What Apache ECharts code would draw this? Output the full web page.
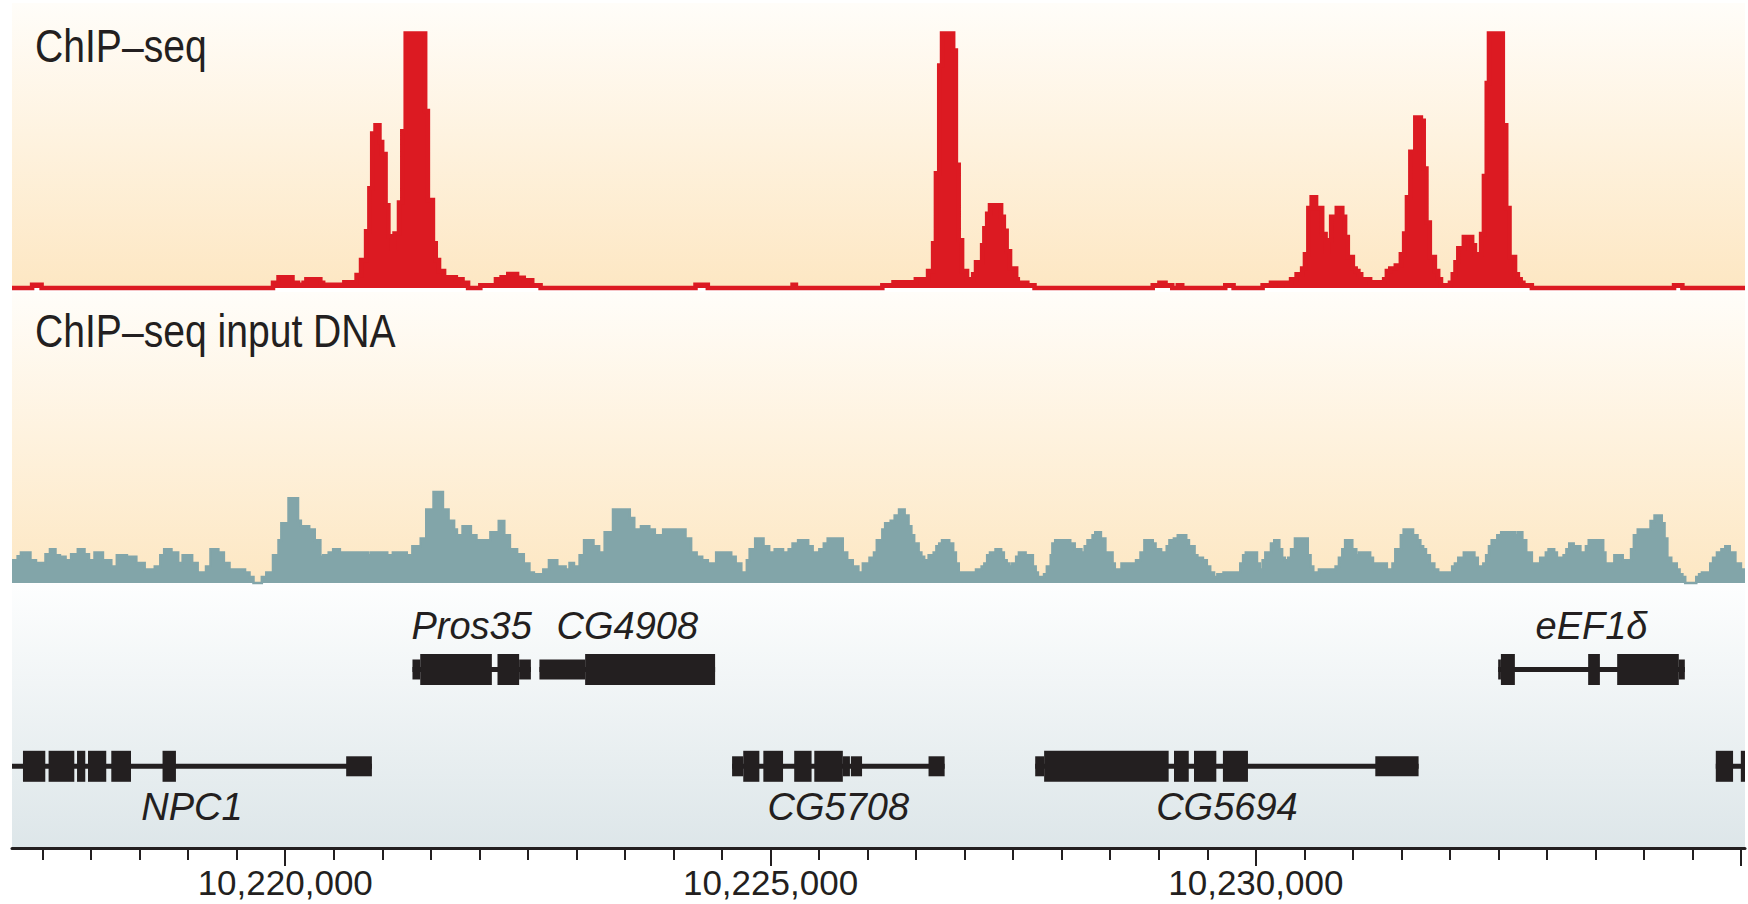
<!DOCTYPE html>
<html><head><meta charset="utf-8">
<script src="https://cdn.jsdelivr.net/npm/echarts@6/dist/echarts.min.js"></script>
<style>html,body{margin:0;padding:0;background:#fff}#c{width:1748px;height:904px}</style>
</head><body><div id="c"></div>
<script>
// ---- data (genomic coordinates in bp) ----
const xMin = 10217185, xMax = 10235040;

// ChIP-seq read density: [step start (bp), value]
const chipSeq = [
[10217185,0],[10217392,1.3],[10217490,0],[10219874,2.1],[10219931,4.2],[10220075,2.1],[10220132,1.3],[10220189,2.1],[10220218,3.4],[10220362,2.1],[10220391,1.3],[10220609,2.3],[10220735,5.1],[10220781,11],[10220833,22.3],[10220867,39.2],[10220896,60.7],[10220930,64],[10220971,57.4],[10220999,52.7],[10221034,32.5],[10221063,20.3],[10221097,15.6],[10221126,21.4],[10221172,33.6],[10221206,61.6],[10221241,100],[10221442,69.6],[10221470,34.6],[10221522,17.6],[10221551,11],[10221585,6.7],[10221637,4.2],[10221758,3.4],[10221827,2.1],[10221884,0],[10222010,1.1],[10222171,3.4],[10222229,4.2],[10222298,5.5],[10222389,4],[10222458,3],[10222545,1.1],[10222631,0],[10224227,1.3],[10224354,0],[10225227,1.3],[10225262,0],
[10226152,1.1],[10226267,2.3],[10226497,3.4],[10226623,6.7],[10226675,17.6],[10226704,45.1],[10226738,87.4],[10226767,100],[10226882,93.3],[10226910,48.4],[10226939,18.8],[10226974,6.7],[10227025,3.4],[10227088,5.4],[10227117,10.1],[10227180,16.8],[10227203,23.5],[10227232,29.2],[10227261,32.5],[10227376,28],[10227404,22.5],[10227433,14.4],[10227468,7.7],[10227531,3.4],[10227548,2.1],[10227646,1.1],[10227720,0],
[10228938,1.1],[10229007,2.1],[10229070,1.1],[10229139,0],[10229196,1.1],[10229242,0],[10229685,1.1],[10229771,0],
[10230070,1.1],[10230156,2.1],[10230242,1.1],[10230276,2.1],[10230363,3.4],[10230420,5.4],[10230477,7.7],[10230506,13.3],[10230541,31.4],[10230575,35.7],[10230621,31.4],[10230684,21.2],[10230719,14.4],[10230747,18.8],[10230776,28],[10230834,31.4],[10230891,28],[10230920,20],[10230948,12.2],[10231000,7.7],[10231029,6.7],[10231057,5.4],[10231086,3.4],[10231178,2.3],[10231322,3.4],[10231350,6.7],[10231385,7.7],[10231442,8.8],[10231494,13.3],[10231528,21.4],[10231557,35.7],[10231592,53.5],[10231643,67],[10231701,65.7],[10231730,47],[10231758,25.7],[10231793,12.2],[10231845,6.7],[10231879,3.4],[10231908,1.1],[10232000,2.1],[10232029,5.4],[10232057,10.1],[10232086,15.6],[10232143,20],[10232229,16.8],[10232258,13.3],[10232321,21.2],[10232350,44],[10232379,80.6],[10232402,100],[10232545,64],[10232580,31.4],[10232614,12.2],[10232671,5.4],[10232700,3.4],[10232729,2.1],[10232757,1.1],[10232844,0],[10234309,1.1],[10234395,0],[10235040,0]
];

// ChIP-seq input DNA: [step start (bp), value]
const inputDNA = [
[10217185,7.8],[10217243,9.2],[10217277,10.5],[10217375,7.8],[10217432,6.9],[10217530,9.9],[10217576,11.6],[10217633,9.5],[10217679,9],[10217737,7.8],[10217794,9.9],[10217863,11.6],[10217932,9.9],[10217978,7.8],[10218035,10.5],[10218122,7.8],[10218208,5.7],[10218265,9.5],[10218369,9],[10218466,6.9],[10218552,4.6],[10218656,5.7],[10218713,9.5],[10218753,11.6],[10218828,10.5],[10218897,6.9],[10218943,9.5],[10219041,6.9],[10219098,3.6],[10219184,5.7],[10219230,11.6],[10219311,10.5],[10219368,6.9],[10219426,4.6],[10219586,3.6],[10219632,2.1],[10219673,0],[10219759,2.1],[10219805,3.6],[10219874,9.5],[10219931,14.7],[10219960,20.5],[10220034,29.1],[10220132,21.4],[10220161,19.5],[10220247,18.4],[10220304,14.7],[10220362,9],[10220391,9.5],[10220448,10.5],[10220494,11.6],[10220563,10.5],[10220850,9.5],[10220879,10.5],[10221051,9.5],[10221109,10.5],[10221252,9.5],[10221310,12.6],[10221396,15.3],[10221453,25.3],[10221528,31.3],[10221625,25.3],[10221683,21.4],[10221740,18.4],[10221769,16.4],[10221827,19.5],[10221913,16.4],[10221970,14.7],[10222114,17.4],[10222200,21.3],[10222257,16.4],[10222315,11.6],[10222389,9.9],[10222458,6.7],[10222516,3.6],[10222562,3],[10222659,4.6],[10222717,7.8],[10222803,5.7],[10222889,4.6],[10222929,6.9],[10222975,5.7],[10223033,9.5],[10223079,14.7],[10223176,12.6],[10223234,10.5],[10223291,17.4],[10223377,25.3],[10223550,22.3],[10223596,18.4],[10223665,19.5],[10223751,18.4],[10223808,16.4],[10223894,18.4],[10224124,15.3],[10224182,10.5],[10224239,9],[10224296,7.8],[10224354,6.7],[10224440,10.5],[10224595,9],[10224641,6.7],[10224699,3.6],[10224756,7.8],[10224785,11.6],[10224842,15.3],[10224928,12.6],[10224986,10.5],[10225043,11.6],[10225129,10.5],[10225187,11.6],[10225227,13.6],[10225284,14.7],[10225388,12.6],[10225434,10.5],[10225503,11.6],[10225549,13.6],[10225589,15.3],[10225744,10.5],[10225790,7.8],[10225847,5.7],[10225905,3.6],[10225951,6.7],[10226020,8.7],
[10226066,10.5],[10226095,14.7],[10226152,18.4],[10226181,20.5],[10226238,21.4],[10226279,23.2],[10226324,25.3],[10226382,23.2],[10226422,19.5],[10226451,16.4],[10226480,13.6],[10226526,10.5],[10226554,9],[10226583,7.8],[10226629,9.5],[10226681,10.5],[10226709,12.6],[10226738,13.6],[10226767,14.7],[10226841,13.6],[10226882,10.5],[10226910,6.7],[10226939,3.6],[10227117,4.6],[10227175,5.7],[10227203,6.7],[10227232,9.5],[10227261,10.5],[10227318,11.6],[10227376,10.5],[10227404,7.8],[10227433,6.7],[10227462,5.7],[10227491,6.7],[10227531,9],[10227559,10.5],[10227628,9.5],[10227703,5.7],[10227732,3.6],[10227755,2.1],[10227818,3],[10227847,5.7],[10227887,9.5],[10227904,13.6],[10227933,14.7],[10228088,13.6],[10228134,11.6],[10228203,10.5],[10228237,12.6],[10228266,14.7],[10228318,16.4],[10228346,17.4],[10228404,15.3],[10228450,10.5],[10228524,6.7],[10228547,4.6],[10228616,6.7],[10228766,7.8],[10228812,10.5],[10228852,14.7],[10228938,13.6],[10228967,11.6],[10229024,10.5],[10229082,12.6],[10229110,14.7],[10229156,15.3],[10229196,16.4],[10229283,14.7],[10229311,12.6],[10229369,9.5],[10229398,8.7],[10229455,7.8],[10229495,5.7],[10229530,3.6],[10229570,2.1],[10229604,3],[10229667,3.6],[10229840,6.7],[10229869,9.5],[10229897,10.5],[10230012,6.7],[10230041,4.6],[10230070,7.8],[10230098,10.5],[10230156,13.6],[10230190,14.7],[10230242,11.6],[10230271,8.7],[10230299,7.8],[10230334,8.7],[10230363,11.6],[10230403,15.3],[10230535,9.5],[10230564,5.7],[10230592,3.6],[10230650,4.6],[10230822,5.7],[10230856,8.7],[10230891,11.6],[10230920,14.7],[10230994,11.6],[10231035,9.5],[10231063,10.5],[10231178,8.7],[10231207,6.7],[10231350,4.6],[10231408,6.7],[10231437,11.6],[10231494,16.4],[10231523,18.4],[10231620,16.4],[10231666,14.7],[10231695,12.6],[10231724,11.6],[10231753,9.5],[10231793,6.7],[10231839,4.6],[10231879,3.6],[10232023,5.7],[10232051,6.7],[10232086,8.7],[10232143,10.5],[10232252,8.7],[10232287,5.7],[10232344,6.7],[10232373,9.5],[10232402,12.6],[10232430,14.7],[10232488,16.4],[10232528,17.4],[10232672,16.4],[10232700,17.4],[10232746,14.7],[10232786,10.5],[10232844,6.7],[10232930,8.7],[10232988,10.5],[10233016,11.6],[10233074,10.5],[10233102,8.7],[10233171,9.5],[10233200,11.6],[10233229,13.6],[10233275,12.6],[10233344,10.5],[10233401,12.6],[10233430,14.7],[10233579,10.5],[10233602,6.7],[10233694,9.5],[10233780,7.8],[10233866,11.6],[10233895,16.4],[10233935,18.4],[10234067,21.3],[10234108,23.2],[10234182,20.5],[10234211,15.3],[10234240,8.7],[10234280,6.7],[10234337,4.6],[10234366,3],[10234395,2.1],[10234424,0],[10234538,2.1],[10234567,3],[10234596,3.6],[10234682,6.7],[10234711,8.7],[10234751,10.5],[10234797,11.6],[10234837,12.6],[10234883,10.5],[10234941,6.7],[10234998,4.6],[10235040,4.6]
];

// gene models
const geneNames = ['NPC1','Pros35','CG4908','CG5708','CG5694','eEF1\u03b4',''];
const geneLane  = [0, 1, 1, 0, 0, 1, 0];
const geneStart = [10217185,10221311,10222619,10224604,10227727,10232497,10234739];
const geneEnd   = [10220893,10222531,10224429,10226794,10231677,10234420,10235100];
// exons: [gene index, start, end, kind]  kind 2 = coding (thick), 1 = UTR (thin)
const exons = [
[0,10217298,10217528,2],[0,10217562,10217827,2],[0,10217855,10217940,2],[0,10217968,10218156,2],[0,10218208,10218411,2],[0,10218736,10218874,2],[0,10220628,10220893,1],
[1,10221311,10221391,1],[1,10221391,10222129,2],[1,10222187,10222410,2],[1,10222410,10222531,1],
[2,10222619,10223090,1],[2,10223090,10224429,2],
[3,10224604,10224719,1],[3,10224719,10224885,2],[3,10224926,10225129,2],[3,10225244,10225423,2],[3,10225451,10225745,2],[3,10225745,10225818,1],[3,10225828,10225943,1],[3,10226628,10226794,1],
[4,10227727,10227819,1],[4,10227819,10229102,2],[4,10229157,10229309,2],[4,10229363,10229593,2],[4,10229661,10229919,2],[4,10231231,10231677,1],
[5,10232497,10232525,1],[5,10232525,10232669,2],[5,10233424,10233545,2],[5,10233723,10234358,2],[5,10234358,10234420,1],
[6,10234739,10234917,2],[6,10234997,10235100,2]
];

// axis ticks
const majorTicks = [10220000,10225000,10230000,10235000];
const tickLabels = [10220000,10225000,10230000];
const minorTicks = [];
for (let t = 10217500; t <= 10235000; t += 500) if (t % 5000 !== 0) minorTicks.push(t);

// ---- styling ----
const RED = '#dc1a22', TEAL = '#82a5a9', INK = '#231f20';
function hasFont(name){
  const c = document.createElement('canvas').getContext('2d');
  const s = '10,220,000 ChIP\u2013seq input DNA';
  c.font = '40px monospace'; const a = c.measureText(s).width;
  c.font = '40px "' + name + '", monospace'; const b = c.measureText(s).width;
  return Math.abs(a - b) > 0.5;
}
const narrow = hasFont('Liberation Sans Narrow');
const condFamily = narrow ? '"Liberation Sans Narrow"' : '"Liberation Sans", Arial';
const condScale = narrow ? 1 : 0.85;
const axisFontSize = narrow ? 38 : 35;

const peach = {type:'linear',x:0,y:0,x2:0,y2:1,colorStops:[{offset:0,color:'#fffdf9'},{offset:1,color:'#fde7c3'}]};
const grey  = {type:'linear',x:0,y:0,x2:0,y2:1,colorStops:[{offset:0,color:'#fdfefe'},{offset:1,color:'#dde6e9'}]};

const L = 12, W = 1733;
const hiddenX = (gi) => ({type:'value', gridIndex:gi, min:xMin, max:xMax, show:false});

function renderGene(params, api){
  const gi = api.value(3), lane = api.value(2);
  const a = api.coord([api.value(0), lane]);
  const b = api.coord([api.value(1), lane]);
  const cy = a[1];
  const children = [{type:'rect', shape:{x:a[0], y:cy-2.5, width:b[0]-a[0], height:5}, style:{fill:INK}}];
  exons.forEach(e => {
    if (e[0] !== gi) return;
    const p = api.coord([e[1], lane]), q = api.coord([e[2], lane]);
    const h = e[3] === 2 ? 31 : 20;
    children.push({type:'rect', shape:{x:p[0], y:cy-h/2, width:q[0]-p[0], height:h}, style:{fill:INK}});
  });
  const name = geneNames[gi];
  if (name) {
    const cs = params.coordSys;
    const x0 = Math.max(a[0], cs.x), x1 = Math.min(b[0], cs.x + cs.width);
    children.push({type:'text', x:(x0+x1)/2, y: lane === 1 ? cy-43.7 : cy+40.5,
      style:{text:name, font:'italic 38px "Liberation Sans", Arial, sans-serif', fill:INK,
             align:'center', verticalAlign:'middle', textAlign:'center', textVerticalAlign:'middle'}});
  }
  return {type:'group', children};
}

const chart = echarts.init(document.getElementById('c'), null, {renderer:'svg', width:1748, height:904});
chart.setOption({
  animation:false,
  backgroundColor:'#ffffff',
  grid:[
    {left:L, width:W, top:3, height:285, show:true, backgroundColor:peach, borderWidth:0},
    {left:L, width:W, top:292, height:291, show:true, backgroundColor:peach, borderWidth:0},
    {left:L, width:W, top:584, height:264, show:true, backgroundColor:grey, borderWidth:0}
  ],
  xAxis:[
    hiddenX(0), hiddenX(1),
    {type:'value', gridIndex:2, min:xMin, max:xMax, position:'bottom',
     axisLine:{show:true, onZero:false, lineStyle:{color:INK, width:3}},
     axisTick:{show:true, customValues:minorTicks, length:12, lineStyle:{color:INK, width:2}},
     axisLabel:{show:false}, splitLine:{show:false}},
    {type:'value', gridIndex:2, min:xMin, max:xMax, position:'bottom', offset:0,
     axisLine:{show:false, onZero:false},
     axisTick:{show:true, customValues:majorTicks, length:18, lineStyle:{color:INK, width:2}},
     axisLabel:{show:true, customValues:tickLabels, margin:17, color:INK, fontSize:axisFontSize, lineHeight:axisFontSize,
       fontFamily:condFamily, formatter:(v)=>Number(v).toLocaleString('en-US')},
     splitLine:{show:false}}
  ],
  yAxis:[
    {type:'value', gridIndex:0, min:0, max:112, show:false},
    {type:'value', gridIndex:1, min:0, max:100, show:false},
    {type:'value', gridIndex:2, min:-0.844, max:1.883, show:false}
  ],
  graphic:[
    {type:'text', x:35, y:45.8, scaleX:condScale, silent:true, z:10,
     style:{text:'ChIP\u2013seq', font:'46px ' + condFamily, fill:INK, align:'left', verticalAlign:'middle', textAlign:'left', textVerticalAlign:'middle'}},
    {type:'text', x:35, y:330.8, scaleX:condScale, silent:true, z:10,
     style:{text:'ChIP\u2013seq input DNA', font:'46px ' + condFamily, fill:INK, align:'left', verticalAlign:'middle', textAlign:'left', textVerticalAlign:'middle'}}
  ],
  series:[
    {name:'ChIP-seq', type:'line', xAxisIndex:0, yAxisIndex:0, data:chipSeq, step:'end', symbol:'none', clip:false,
     lineStyle:{color:RED, width:4.5, join:'miter'}, areaStyle:{color:RED, opacity:1}, silent:true},
    {name:'ChIP-seq input DNA', type:'line', xAxisIndex:1, yAxisIndex:1, data:inputDNA, step:'end', symbol:'none', clip:false,
     lineStyle:{color:TEAL, width:2.5, join:'miter'}, areaStyle:{color:TEAL, opacity:1}, silent:true},
    {name:'genes', type:'custom', xAxisIndex:2, yAxisIndex:2, clip:true, silent:true,
     data: geneNames.map((n,i) => [geneStart[i], geneEnd[i], geneLane[i], i]),
     encode:{x:[0,1], y:2}, renderItem:renderGene}
  ]
});
</script></body></html>
